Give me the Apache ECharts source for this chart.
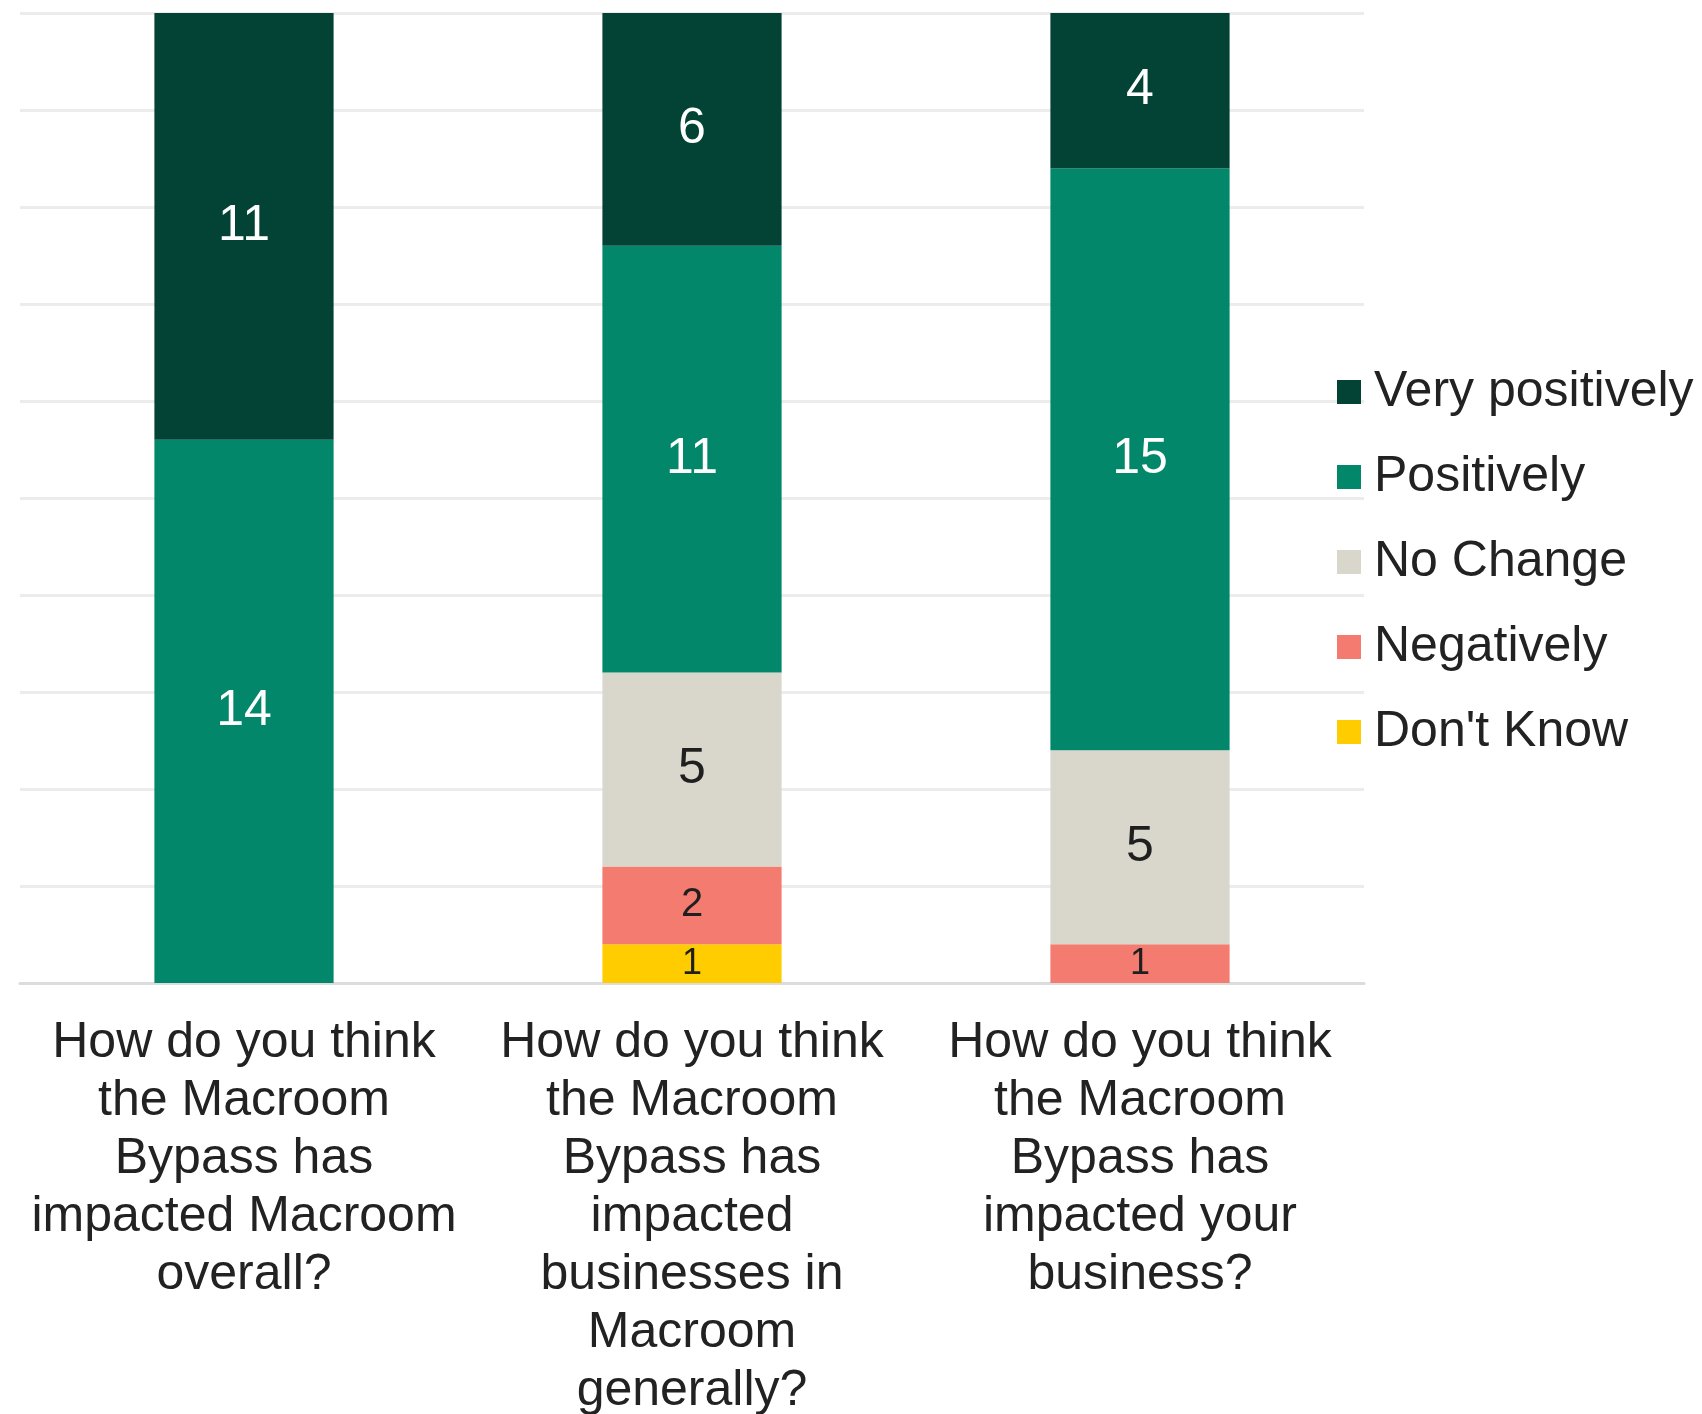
<!DOCTYPE html>
<html>
<head>
<meta charset="utf-8">
<script src="https://cdn.jsdelivr.net/npm/echarts@6/dist/echarts.min.js"></script>
<style>
  html, body { margin: 0; padding: 0; background: #ffffff; }
  #chart { width: 1702px; height: 1414px; }
</style>
</head>
<body>
<div id="chart"></div>
<script>
// Survey questions (x-axis categories)
const categories = [
  'How do you think\nthe Macroom\nBypass has\nimpacted Macroom\noverall?',
  'How do you think\nthe Macroom\nBypass has\nimpacted\nbusinesses in\nMacroom\ngenerally?',
  'How do you think\nthe Macroom\nBypass has\nimpacted your\nbusiness?'
];

// Response counts per answer (null = no responses)
const veryPositively = [11, 6, 4];
const positively = [14, 11, 15];
const noChange = [null, 5, 5];
const negatively = [null, 2, 1];
const dontKnow = [null, 1, null];

const FONT = '"Liberation Sans", Arial, sans-serif';

// Smaller labels on the thin segments
function labelSize(v) {
  if (v === 1) return 36;
  if (v === 2) return 40;
  return 50;
}

function makeSeries(name, values, color, textColor) {
  return {
    name: name,
    type: 'bar',
    stack: 'total',
    barWidth: '40%',
    itemStyle: { color: color },
    label: {
      show: true,
      position: 'inside',
      color: textColor,
      fontFamily: FONT
    },
    data: values.map(v => v === null ? null : {
      value: v,
      label: { fontSize: labelSize(v) }
    })
  };
}

const chart = echarts.init(document.getElementById('chart'));

chart.setOption({
  backgroundColor: '#ffffff',
  animation: false,
  grid: {
    left: 20, right: 338, top: 13, bottom: 431,
    containLabel: false,
    outerBoundsMode: 'none'
  },
  legend: {
    orient: 'vertical',
    left: 1332,
    top: 362,
    itemWidth: 24,
    itemHeight: 24,
    itemGap: 35,
    icon: 'rect',
    data: ['Very positively', 'Positively', 'No Change', 'Negatively', "Don't Know"],
    textStyle: {
      fontFamily: FONT,
      fontSize: 50,
      lineHeight: 50,
      color: '#222222',
      padding: [0, 0, 0, 8]
    }
  },
  xAxis: {
    type: 'category',
    data: categories,
    axisLine: { show: true, lineStyle: { color: '#dcdcdc', width: 3 } },
    axisTick: { show: false },
    axisLabel: {
      interval: 0,
      margin: 31,
      fontFamily: FONT,
      fontSize: 50,
      lineHeight: 58,
      color: '#222222',
      align: 'center'
    }
  },
  yAxis: {
    type: 'value',
    min: 0,
    max: 25,
    interval: 2.5,
    axisLabel: { show: false },
    axisLine: { show: false },
    axisTick: { show: false },
    splitLine: { show: true, lineStyle: { color: '#ececec', width: 3 } }
  },
  series: [
    makeSeries("Don't Know", dontKnow, '#ffcc00', '#1f1f1f'),
    makeSeries('Negatively', negatively, '#f47b6f', '#1f1f1f'),
    makeSeries('No Change', noChange, '#d9d7cb', '#1f1f1f'),
    makeSeries('Positively', positively, '#02876a', '#ffffff'),
    makeSeries('Very positively', veryPositively, '#034335', '#ffffff')
  ]
});
</script>
</body>
</html>
